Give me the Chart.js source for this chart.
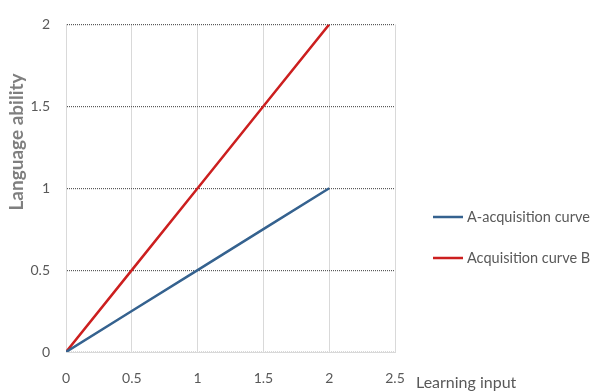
<!DOCTYPE html>
<html><head><meta charset="utf-8">
<script src="https://cdn.jsdelivr.net/npm/chart.js@4"></script>
<style>html,body{margin:0;padding:0;background:#fff}#wrap{width:593px;height:392px;position:relative}</style>
</head><body><div id="wrap"><canvas id="c" width="593" height="392"></canvas></div>
<script>
const learningInput = [0, 0.5, 1, 1.5, 2];
const curveA = [0, 0.25, 0.5, 0.75, 1];
const curveB = [0, 0.5, 1, 1.5, 2];
const seriesNames = ['A-acquisition curve', 'Acquisition curve B'];
const seriesColors = ['#35628f', '#cc1f1f'];
const xTitle = 'Learning input';
const yTitle = 'Language ability';
const FONT = 'Lato, "Open Sans", sans-serif';

const overlay = {
  id: 'overlay',
  afterDraw(chart) {
    const ctx = chart.ctx, ca = chart.chartArea;
    ctx.save();
    // x title
    ctx.fillStyle = '#595959';
    ctx.font = '16px ' + FONT;
    ctx.textAlign = 'left'; ctx.textBaseline = 'middle';
    ctx.fillText(xTitle, ca.right + 21, 383);
    // y title
    ctx.save();
    ctx.translate(17, 142);
    ctx.rotate(-Math.PI / 2);
    ctx.textAlign = 'center'; ctx.textBaseline = 'middle';
    ctx.font = 'bold 19px ' + FONT;
    ctx.fillStyle = '#7f7f7f';
    ctx.fillText(yTitle, 0, 0);
    ctx.restore();
    // legend
    const ys = [217, 258];
    chart.data.datasets.forEach((ds, i) => {
      ctx.strokeStyle = ds.borderColor; ctx.lineWidth = 2.5;
      ctx.beginPath(); ctx.moveTo(433, ys[i]); ctx.lineTo(463, ys[i]); ctx.stroke();
      ctx.fillStyle = '#595959'; ctx.font = '14.5px ' + FONT;
      ctx.textAlign = 'left'; ctx.textBaseline = 'middle';
      ctx.fillText(ds.label, 467, ys[i]);
    });
    ctx.restore();
  }
};

new Chart(document.getElementById('c'), {
  type: 'line',
  data: {
    datasets: [
      { label: seriesNames[0], data: learningInput.map((x, i) => ({x, y: curveA[i]})), borderColor: seriesColors[0], borderWidth: 2.5, pointRadius: 0, fill: false, tension: 0 },
      { label: seriesNames[1], data: learningInput.map((x, i) => ({x, y: curveB[i]})), borderColor: seriesColors[1], borderWidth: 2.5, pointRadius: 0, fill: false, tension: 0 }
    ]
  },
  options: {
    responsive: false, animation: false,
    layout: { padding: { left: 0, top: 20, right: 198, bottom: 0 } },
    plugins: { legend: { display: false }, tooltip: { enabled: false } },
    scales: {
      x: {
        type: 'linear', min: 0, max: 2.5,
        ticks: { stepSize: 0.5, color: '#595959', font: { family: FONT, size: 14 }, padding: 18, maxRotation: 0,
          callback: v => String(v) },
        grid: { color: '#d9d9d9', lineWidth: 1, drawTicks: false },
        border: { display: true, color: '#d9d9d9' },
        afterFit: s => { s.height = 40; }
      },
      y: {
        min: 0, max: 2,
        ticks: { stepSize: 0.5, color: '#595959', font: { family: FONT, size: 14 }, padding: 16, callback: v => String(v) },
        grid: { color: ctx => ctx.tick.value === 0 ? '#d9d9d9' : '#5a5a5a', lineWidth: 1.2, drawTicks: false },
        border: { display: true, color: '#d9d9d9', dash: [1, 1] },
        afterFit: s => { s.width = 66; }
      }
    }
  },
  plugins: [overlay]
});
</script></body></html>
